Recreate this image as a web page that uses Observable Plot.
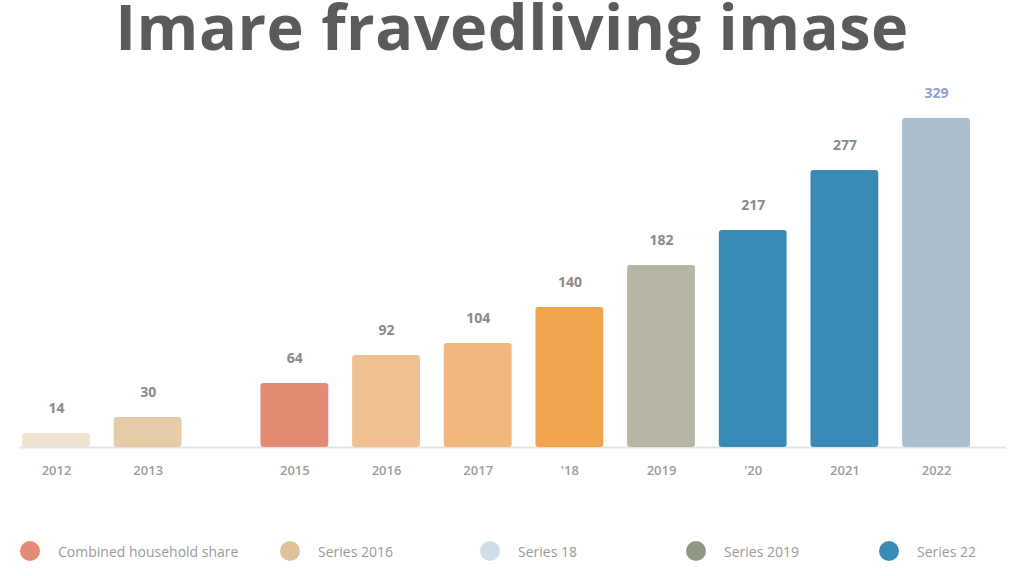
<!DOCTYPE html>
<html>
<head>
<meta charset="utf-8">
<script src="https://cdn.jsdelivr.net/npm/d3@7"></script>
<script src="https://cdn.jsdelivr.net/npm/@observablehq/plot@0.6"></script>
<style>
  html, body { margin: 0; padding: 0; background: #fff; }
  body { width: 1024px; height: 576px; position: relative; overflow: hidden; font-family: "Open Sans", sans-serif; }
  #title { position: absolute; left: 0; top: 0; width: 1024px; text-align: center; font-size: 63px; line-height: 52px; font-weight: 700; color: #5b5b5b; letter-spacing: 0.5px; }
  #chart { position: absolute; left: 0; top: 0; }
  #legend { position: absolute; left: 0; top: 538px; width: 1024px; height: 26px; }
  .item { position: absolute; top: 0; height: 26px; display: flex; align-items: center; font-size: 14px; color: #9a9a9a; white-space: nowrap; }
  .dot { width: 20px; height: 20px; border-radius: 50%; margin-right: 18px; flex: none; }
</style>
</head>
<body>
<div id="title">Imare fravedliving imase</div>
<div id="chart"></div>
<div id="legend"></div>
<script>
// ---- data ----
const categories = ["2012", "2013", "2015", "2016", "2017", "'18", "2019", "'20", "2021", "2022"];
const values = [14, 30, 64, 92, 104, 140, 182, 217, 277, 329];
const groups = [0, 0, 1, 1, 1, 1, 1, 1, 1, 1];
const barColors = ["#f0e3d2", "#e6cba8", "#e48b76", "#f0c293", "#f2b77d", "#f2a34e", "#b6b4a2", "#3a8ab6", "#3a8ab6", "#a9bfd0"];
const labelColors = ["#8a8a8a", "#8a8a8a", "#8a8a8a", "#8a8a8a", "#8a8a8a", "#8a8a8a", "#8a8a8a", "#8a8a8a", "#8a8a8a", "#8ea1d6"];
const legendLabels = ["Combined household share", "Series 2016", "Series 18", "Series 2019", "Series 22"];
const legendColors = ["#e48b76", "#dfc29c", "#cfdde8", "#8d9783", "#3a8ab6"];

// ---- layout ----
const groupGap = 0.6;
const halfWidth = 0.37;
const rows = categories.map((c, i) => ({
  cat: c,
  value: values[i],
  pos: i + groups[i] * groupGap,
  color: barColors[i],
  labelColor: labelColors[i]
}));

const chart = Plot.plot({
  width: 1024,
  height: 500,
  marginLeft: 20,
  marginRight: 18,
  marginTop: 100,
  marginBottom: 53,
  style: { background: "transparent", fontFamily: "Open Sans, sans-serif" },
  x: { domain: [-0.393, 10.363], axis: null },
  y: { domain: [0, 347], axis: null },
  marks: [
    Plot.ruleY([0], { stroke: "#e4e4e4", strokeWidth: 2 }),
    Plot.rectY(rows, {
      x1: d => d.pos - halfWidth,
      x2: d => d.pos + halfWidth,
      y1: 0,
      y2: "value",
      fill: "color",
      rx: 3
    }),
    Plot.text(rows, {
      x: "pos", y: "value", text: d => String(d.value),
      dy: -25, fill: "labelColor", fontSize: 14, fontWeight: 700, lineAnchor: "middle"
    }),
    Plot.text(rows, {
      x: "pos", y: 0, text: "cat",
      dy: 23, fill: "#9c9c9c", fontSize: 13, fontWeight: 600, lineAnchor: "middle"
    })
  ]
});
document.getElementById("chart").appendChild(chart);

// ---- legend ----
const legendX = [20, 280, 480, 686, 879];
const legend = document.getElementById("legend");
legendLabels.forEach((lab, i) => {
  const item = document.createElement("div");
  item.className = "item";
  item.style.left = legendX[i] + "px";
  const dot = document.createElement("span");
  dot.className = "dot";
  dot.style.background = legendColors[i];
  item.appendChild(dot);
  item.appendChild(document.createTextNode(lab));
  legend.appendChild(item);
});
</script>
</body>
</html>
